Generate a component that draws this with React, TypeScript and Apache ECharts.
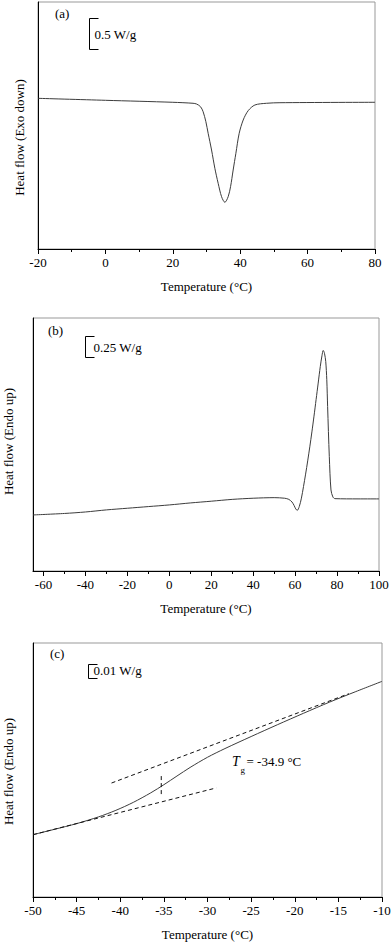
import { useEffect, useRef } from "react";
import * as echarts from "echarts";

// Panel (a): Heat flow (Exo down), W/g
const aTemp = [-20, 0, 20, 26, 27.05, 28.23, 29.0, 29.81, 30.49, 31.5, 32.48, 33.46, 34.47, 35.45, 36.43, 37.14, 37.91, 38.72, 39.7, 40.89, 42.37, 44.36, 47.84, 51.8, 80];
const aFlow = [2.44, 2.408, 2.376, 2.36, 2.348, 2.304, 2.223, 2.062, 1.874, 1.603, 1.307, 1.064, 0.847, 0.756, 0.847, 1.009, 1.279, 1.55, 1.874, 2.089, 2.24, 2.332, 2.36, 2.369, 2.376];

// Panel (b): Heat flow (Endo up), W/g
const bTemp = [-65, -50, -40, -30, -20, -10, 0, 10, 20, 30, 40, 50, 55, 57, 58.5, 59.5, 60.3, 61.0, 62.0, 63.0, 64.0, 65.0, 66.0, 67.0, 68.0, 69.0, 70.0, 71.0, 72.0, 72.8, 73.4, 74.0, 74.6, 75.1, 75.5, 76.3, 77.1, 78.0, 79, 90, 100];
const bFlow = [0.677, 0.695, 0.713, 0.738, 0.758, 0.778, 0.798, 0.822, 0.843, 0.865, 0.879, 0.886, 0.879, 0.865, 0.834, 0.792, 0.75, 0.732, 0.78, 0.88, 1.02, 1.17, 1.33, 1.5, 1.68, 1.87, 2.07, 2.27, 2.47, 2.6, 2.664, 2.63, 2.53, 2.31, 1.987, 1.382, 0.979, 0.895, 0.874, 0.871, 0.871];

// Panel (c): Heat flow (Endo up), mW/g
const cTemp = [-50, -47.5, -45, -42.5, -40.5, -38.5, -36.5, -35, -33.5, -32, -30, -28, -25, -22, -19, -16, -13, -10];
const cFlow = [44.5, 48.4, 52.4, 57.2, 61.9, 67.6, 74.4, 80.2, 86.4, 92.5, 99.8, 106.0, 114.6, 123.0, 131.2, 139.2, 146.7, 154.0];
const cUpperTemp = [-41, -13.8];
const cUpperFlow = [81.4, 145.2];
const cLowerTemp = [-50, -29];
const cLowerFlow = [44.5, 77.9];
const cMarkTemp = [-35.3, -35.3];
const cMarkFlow = [73.5, 86.5];

const bLabels = [-60, -40, -20, 0, 20, 40, 60, 80, 100];
const bMinor = [-50, -30, -10, 10, 30, 50, 70, 90];

const FONT = '"Liberation Serif", "Times New Roman", serif';

const pairs = (xs: number[], ys: number[]) => xs.map((x, i) => [x, ys[i]]);

export default function App() {
  const ref = useRef<HTMLDivElement>(null);
  useEffect(() => {
    if (!ref.current) return;
    const chart = echarts.init(ref.current, undefined, { renderer: "svg" });
    const grids = [
      { left: 38, top: 2, width: 337, height: 247 },
      { left: 33, top: 318, width: 346, height: 253 },
      { left: 33, top: 643, width: 349, height: 254 },
    ].map((g) => ({ ...g, show: true, borderColor: "#999", borderWidth: 1, containLabel: false, outerBoundsMode: "none" }));

    const baseX = {
      type: "value",
      position: "bottom",
      name: "Temperature (°C)",
      nameLocation: "middle",
      nameGap: 31,
      nameTextStyle: { fontSize: 13, fontFamily: FONT, color: "#000" },
      axisLine: { show: true, onZero: false, lineStyle: { color: "#000", width: 1 } },
      axisTick: { show: true, inside: false, length: 5, lineStyle: { color: "#000" } },
      minorTick: { show: true, splitNumber: 2, length: 3, lineStyle: { color: "#000" } },
      axisLabel: { fontSize: 13, fontFamily: FONT, color: "#000", margin: 7 },
      splitLine: { show: false },
      minorSplitLine: { show: false },
    };

    const xAxes: any[] = [
      { ...baseX, gridIndex: 0, min: -20, max: 80, interval: 20 },
      {
        ...baseX,
        gridIndex: 1,
        min: -65,
        max: 100,
        minorTick: { show: false },
        axisTick: { ...baseX.axisTick, customValues: bLabels },
        axisLabel: { ...baseX.axisLabel, customValues: bLabels },
      },
      { ...baseX, gridIndex: 2, min: -50, max: -10, interval: 5 },
      {
        type: "value",
        gridIndex: 1,
        position: "bottom",
        min: -65,
        max: 100,
        axisLine: { show: false, onZero: false },
        axisLabel: { show: false },
        splitLine: { show: false },
        axisTick: { show: true, length: 3, customValues: bMinor, lineStyle: { color: "#000" } },
      },
    ];

    const baseY = {
      type: "value",
      min: 0,
      axisLine: { show: true, onZero: false, lineStyle: { color: "#000", width: 1 } },
      axisTick: { show: false },
      axisLabel: { show: false },
      splitLine: { show: false },
    };
    const yAxes: any[] = [
      { ...baseY, gridIndex: 0, max: 4.0 },
      { ...baseY, gridIndex: 1, max: 3.056 },
      { ...baseY, gridIndex: 2, max: 181.4 },
    ];

    const curve = { color: "#3c3c3c", width: 1 };
    const dash = { color: "#111", width: 1, type: [4, 3] };
    const line = (xi: number, yi: number, data: number[][], style: any, smooth: number | boolean) => ({
      type: "line",
      xAxisIndex: xi,
      yAxisIndex: yi,
      data,
      symbol: "none",
      smooth,
      lineStyle: style,
      silent: true,
    });

    const txt = (text: string, x: number, y: number, extra: any = {}) => ({
      type: "text",
      x,
      y,
      silent: true,
      style: {
        text,
        fontSize: 13,
        fontFamily: FONT,
        fill: "#000",
        align: "left",
        verticalAlign: "middle",
        ...extra,
      },
    });
    const bar = (x: number, y1: number, y2: number, w: number) => ({
      type: "polyline",
      silent: true,
      shape: { points: [[x + w, y1], [x, y1], [x, y2], [x + w, y2]] },
      style: { stroke: "#000", lineWidth: 1, fill: null },
    });
    const ytitle = (text: string, x: number, y: number) => ({
      type: "text",
      x,
      y,
      rotation: Math.PI / 2,
      silent: true,
      style: { text, fontSize: 13, fontFamily: FONT, fill: "#000", align: "center", verticalAlign: "middle" },
    });

    chart.setOption({
      animation: false,
      grid: grids,
      xAxis: xAxes,
      yAxis: yAxes,
      series: [
        line(0, 0, pairs(aTemp, aFlow), curve, 0.3),
        line(1, 1, pairs(bTemp, bFlow), curve, 0.3),
        line(2, 2, pairs(cTemp, cFlow), curve, 0.3),
        line(2, 2, pairs(cUpperTemp, cUpperFlow), dash, false),
        line(2, 2, pairs(cLowerTemp, cLowerFlow), dash, false),
        line(2, 2, pairs(cMarkTemp, cMarkFlow), dash, false),
      ],
      graphic: [
        txt("(a)", 55, 13),
        txt("(b)", 48, 330),
        txt("(c)", 50, 653),
        bar(89.5, 18.5, 49.5, 9),
        txt("0.5 W/g", 94.5, 34),
        bar(85.5, 336.5, 357.5, 9),
        txt("0.25 W/g", 93.5, 347),
        bar(88.5, 664.5, 678.5, 9),
        txt("0.01 W/g", 93.5, 670),
        ytitle("Heat flow (Exo down)", 19, 137.5),
        ytitle("Heat flow (Endo up)", 8, 441.5),
        ytitle("Heat flow (Endo up)", 8.5, 771.5),
        txt("T", 232, 761, { fontStyle: "italic", fontSize: 14 }),
        txt("g", 240.5, 770, { fontSize: 9 }),
        txt("= -34.9 °C", 246.5, 761),
      ],
    });
    return () => chart.dispose();
  }, []);
  return <div ref={ref} style={{ position: "absolute", left: 0, top: 0, width: 392, height: 945 }} />;
}
